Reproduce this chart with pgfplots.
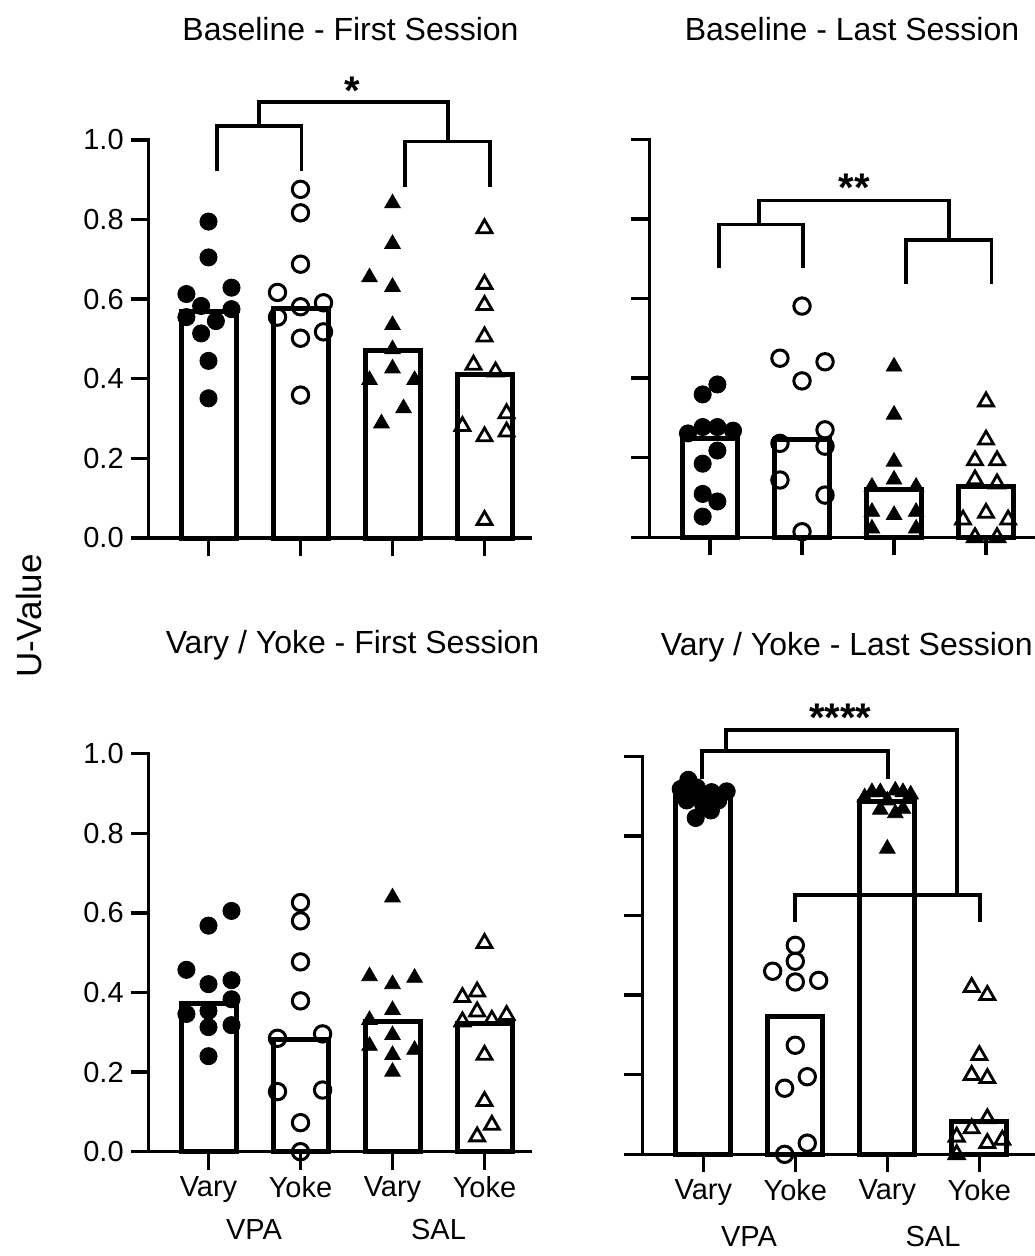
\documentclass[border=0pt]{standalone}
\usepackage{fontspec}
\setmainfont{Liberation Sans}
\usepackage{pgfplots}
\pgfplotsset{compat=1.18}
\newcommand{\tickfont}{\fontsize{14.5}{16}\selectfont}
\newcommand{\titlefont}{\fontsize{16}{18}\selectfont}
\newcommand{\starfont}{\fontsize{20}{22}\selectfont\bfseries}
\tikzset{br/.style={line width=1.9pt, black}}
\pgfplotsset{
  panel/.style={
    x=46pt, y=199pt, ymin=0, ymax=1, xmax=3.5,
    axis x line=bottom, axis y line=left,
    x axis line style={-}, y axis line style={-},
    axis line style={line width=1.7pt, line cap=rect, black},
    major tick style={line width=1.7pt, black},
    major tick length=9pt, tick align=outside,
    xtick={0,1,2,3}, ytick={0,0.2,0.4,0.6,0.8,1.0},
    xticklabels={},
    /pgf/number format/assume math mode=true,
    yticklabel style={/pgf/number format/fixed, /pgf/number format/fixed zerofill, /pgf/number format/precision=1, font=\tickfont},
    xticklabel style={font=\tickfont},
    clip=false, anchor=south west,
  },
  barst/.style={ybar, bar width=27.5pt, bar shift=0pt, fill=white, draw=black, line width=2.5pt},
  fc/.style={only marks, mark=*, mark size=4.3pt, black},
  oc/.style={only marks, mark=o, mark size=4.1pt, black, mark options={line width=1.5pt}},
  ft/.style={only marks, mark=triangle*, mark size=4.5pt, black},
  ot/.style={only marks, mark=triangle, mark size=4.3pt, black, mark options={line width=1.4pt}},
}
\begin{document}
\begin{tikzpicture}
\path[use as bounding box] (0pt,0pt) rectangle (517pt,-628pt);

% ---------------- Top-left ----------------
\begin{axis}[panel, xmin=-0.65, at={(74.35pt,-269pt)}]
\addplot[barst] coordinates {(0,0.57) (1,0.577) (2,0.471) (3,0.41)};
\addplot[fc] coordinates {(0,0.795) (0,0.705) (-0.24,0.613) (0.25,0.629) (-0.08,0.583) (0.25,0.575) (-0.24,0.555) (0.08,0.545) (-0.08,0.514) (0,0.445) (0,0.351)};
\addplot[oc] coordinates {(1,0.876) (1,0.817) (1,0.688) (0.75,0.617) (1.25,0.591) (1,0.581) (0.75,0.555) (1.25,0.518) (1,0.502) (1,0.359)};
\addplot[ft] coordinates {(2,0.841) (2,0.739) (1.75,0.655) (2,0.631) (2,0.535) (2,0.474) (2,0.426) (1.75,0.397) (2.24,0.397) (2.12,0.326) (1.88,0.288)};
\addplot[ot] coordinates {(3,0.778) (3,0.638) (3,0.585) (3,0.506) (2.88,0.435) (3.12,0.418) (3.24,0.313) (2.76,0.281) (3.24,0.267) (3,0.255) (3,0.045)};
\draw[br] (axis cs:0.09,0.923) |- (axis cs:1.01,1.035) -- (axis cs:1.01,0.923);
\draw[br] (axis cs:2.14,0.883) |- (axis cs:3.06,0.996) -- (axis cs:3.06,0.883);
\draw[br] (axis cs:0.55,1.035) |- (axis cs:2.6,1.095) -- (axis cs:2.6,0.996);
\node[anchor=base, font=\starfont] at (axis cs:1.56,1.088) {*};
\end{axis}

% ---------------- Top-right ----------------
\begin{axis}[panel, xmin=-0.66, xmax=3.6, yticklabels={}, at={(324.65pt,-268.65pt)}]
\addplot[barst] coordinates {(0,0.249) (1,0.245) (2,0.119) (3,0.128)};
\addplot[fc] coordinates {(0.08,0.384) (-0.08,0.359) (-0.08,0.277) (0.08,0.277) (-0.24,0.261) (0.25,0.268) (0.08,0.218) (-0.08,0.185) (-0.08,0.109) (0.08,0.090) (-0.08,0.052)};
\addplot[oc] coordinates {(1,0.581) (0.76,0.45) (1.25,0.441) (1,0.393) (1.25,0.27) (0.76,0.236) (1.25,0.229) (0.76,0.144) (1.25,0.106) (1,0.014)};
\addplot[ft] coordinates {(2,0.429) (2,0.308) (2,0.19) (2,0.145) (1.76,0.127) (2.24,0.127) (1.76,0.064) (2,0.056) (2.24,0.064) (1.76,0.022) (2.24,0.022)};
\addplot[ot] coordinates {(3,0.341) (3,0.245) (2.88,0.193) (3.12,0.193) (2.88,0.145) (3.12,0.135) (3,0.061) (2.75,0.044) (3.24,0.044) (2.88,0.0) (3.12,0.0)};
\draw[br] (axis cs:0.098,0.676) |- (axis cs:1.01,0.786) -- (axis cs:1.01,0.676);
\draw[br] (axis cs:2.13,0.636) |- (axis cs:3.06,0.747) -- (axis cs:3.06,0.636);
\draw[br] (axis cs:0.536,0.786) |- (axis cs:2.6,0.846) -- (axis cs:2.6,0.747);
\node[anchor=base, font=\starfont] at (axis cs:1.57,0.843) {**};
\end{axis}

% ---------------- Bottom-left ----------------
\begin{axis}[panel, xmin=-0.65, xticklabels={Vary,Yoke,Vary,Yoke}, at={(74.35pt,-575.85pt)}]
\addplot[barst] coordinates {(0,0.373) (1,0.283) (2,0.328) (3,0.323)};
\addplot[fc] coordinates {(0.25,0.605) (0,0.568) (-0.24,0.457) (0,0.421) (0.25,0.431) (0.25,0.383) (-0.24,0.346) (0,0.354) (0,0.313) (0.25,0.318) (0,0.240)};
\addplot[oc] coordinates {(1,0.626) (1,0.58) (1,0.477) (1,0.379) (1.24,0.296) (0.75,0.285) (0.75,0.151) (1.24,0.155) (1,0.073) (1,0.0)};
\addplot[ft] coordinates {(2,0.639) (1.75,0.441) (2.24,0.437) (2,0.421) (2,0.356) (1.75,0.331) (2,0.293) (1.75,0.266) (2.24,0.256) (2,0.243) (2,0.201)};
\addplot[ot] coordinates {(3,0.524) (2.92,0.402) (2.76,0.388) (2.92,0.352) (2.76,0.327) (3.08,0.331) (3.24,0.343) (3,0.243) (3,0.127) (3.08,0.067) (2.92,0.038)};
\end{axis}

% ---------------- Bottom-right ----------------
\begin{axis}[panel, xmin=-0.663, xmax=3.7, yticklabels={}, xticklabels={Vary,Yoke,Vary,Yoke}, at={(321.15pt,-577.15pt)}]
\addplot[barst] coordinates {(0,0.9) (1,0.347) (2,0.887) (3,0.082)};
\addplot[fc] coordinates {(-0.163,0.941) (-0.246,0.918) (-0.072,0.922) (0.09,0.910) (0.254,0.912) (-0.18,0.889) (0,0.896) (0.163,0.889) (0,0.876) (0.083,0.864) (-0.083,0.845)};
\addplot[oc] coordinates {(1,0.525) (1,0.485) (0.754,0.46) (1,0.433) (1.254,0.437) (1,0.274) (1.13,0.195) (0.884,0.166) (1.13,0.028) (0.884,0.0)};
\addplot[ft] coordinates {(1.833,0.91) (1.924,0.91) (2.087,0.914) (2.17,0.91) (2.254,0.904) (1.754,0.897) (2,0.889) (1.924,0.866) (2.087,0.857) (2.17,0.868) (2,0.768)};
\addplot[ot] coordinates {(2.917,0.42) (3.087,0.4) (3,0.249) (2.917,0.199) (3.087,0.191) (3.087,0.09) (2.917,0.065) (2.754,0.044) (3.087,0.028) (3.25,0.036) (2.754,0.0)};
\draw[br] (axis cs:-0.01,0.943) |- (axis cs:2.01,1.013) -- (axis cs:2.01,0.943);
\draw[br] (axis cs:1.0,0.584) |- (axis cs:3.01,0.651) -- (axis cs:3.01,0.584);
\draw[br] (axis cs:0.25,1.013) |- (axis cs:2.76,1.066) -- (axis cs:2.76,0.651);
\node[anchor=base, font=\starfont] at (axis cs:1.49,1.062) {****};
\end{axis}

% ---------------- Texts ----------------
\node[anchor=base, font=\titlefont] at (175.25pt,-20.5pt) {Baseline - First Session};
\node[anchor=base, font=\titlefont] at (426pt,-20.5pt) {Baseline - Last Session};
\node[anchor=base, font=\titlefont] at (176.25pt,-326.65pt) {Vary / Yoke - First Session};
\node[anchor=base, font=\titlefont] at (423.35pt,-327.5pt) {Vary / Yoke - Last Session};
\node[rotate=90, font=\fontsize{17.5}{20}\selectfont] at (14.5pt,-308pt) {U-Value};
\node[font=\tickfont] at (127pt,-615pt) {VPA};
\node[font=\tickfont] at (219.25pt,-615pt) {SAL};
\node[font=\tickfont] at (374.5pt,-618.5pt) {VPA};
\node[font=\tickfont] at (466.5pt,-618.5pt) {SAL};
\end{tikzpicture}
\end{document}
